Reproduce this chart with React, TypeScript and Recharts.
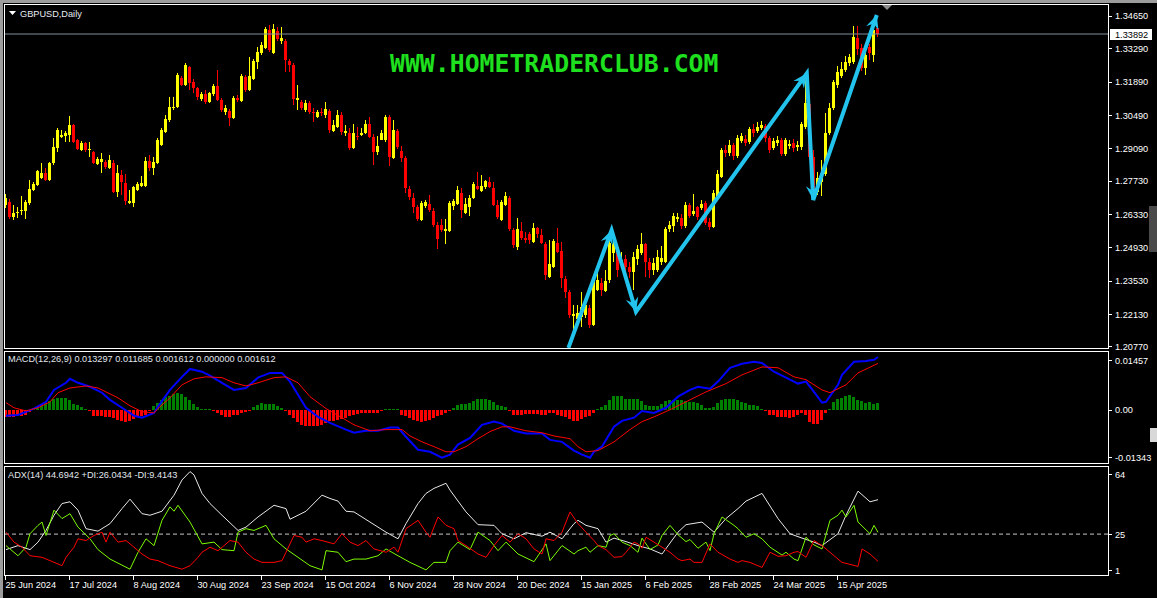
import { Bar, ComposedChart, Line, ReferenceLine, XAxis, YAxis } from "recharts";

// GBPUSD daily, one bar per trading day starting 25 Jun 2024
const opens = [
  1.2671, 1.2684, 1.2621, 1.2637, 1.2646, 1.2646, 1.2679, 1.2734, 1.2755, 1.2784,
  1.2805, 1.2776, 1.2847, 1.291, 1.2957, 1.2961, 1.2965, 1.3007, 1.2944, 1.2902,
  1.2931, 1.2902, 1.2894, 1.2843, 1.2852, 1.2852, 1.2826, 1.2847, 1.2726, 1.2797,
  1.2763, 1.2679, 1.2679, 1.2734, 1.2751, 1.2751, 1.2856, 1.2826, 1.2847, 1.2923,
  1.2978, 1.3028, 1.3078, 1.3083, 1.3204, 1.3175, 1.3251, 1.3188, 1.3162, 1.3116,
  1.3137, 1.3104, 1.3137, 1.3171, 1.3112, 1.3062, 1.3066, 1.3036, 1.312, 1.3108,
  1.3209, 1.3154, 1.32, 1.3272, 1.3309, 1.333, 1.3406, 1.3309, 1.3402, 1.336,
  1.336, 1.3276, 1.3259, 1.3112, 1.3104, 1.307, 1.3099, 1.3062, 1.3041, 1.3062,
  1.3049, 1.3066, 1.2982, 1.2999, 1.3049, 1.2973, 1.2973, 1.291, 1.2961, 1.2965,
  1.2973, 1.3011, 1.2957, 1.2894, 1.2944, 1.2944, 1.3041, 1.2868, 1.2982, 1.2898,
  1.2868, 1.2738, 1.27, 1.2663, 1.2608, 1.2667, 1.2675, 1.2646, 1.2587, 1.2587,
  1.2562, 1.2562, 1.2667, 1.2675, 1.2721, 1.2637, 1.2663, 1.27, 1.2751, 1.273,
  1.2747, 1.2768, 1.2742, 1.2671, 1.2608, 1.2671, 1.27, 1.2566, 1.2495, 1.2562,
  1.2532, 1.2549, 1.2516, 1.2574, 1.2545, 1.2507, 1.2369, 1.2411, 1.2511, 1.2478,
  1.236, 1.2306, 1.2205, 1.2192, 1.2201, 1.2209, 1.2238, 1.2167, 1.2314, 1.2343,
  1.231, 1.2356, 1.2469, 1.2495, 1.2432, 1.2444, 1.2411, 1.239, 1.2444, 1.2469,
  1.2507, 1.2432, 1.2398, 1.2398, 1.2432, 1.2432, 1.257, 1.2583, 1.2612, 1.2616,
  1.2583, 1.2671, 1.2633, 1.2663, 1.2658, 1.2679, 1.26, 1.2579, 1.2705, 1.2789,
  1.2902, 1.2889, 1.2923, 1.2877, 1.294, 1.2948, 1.2936, 1.299, 1.2982, 1.2994,
  1.3003, 1.2952, 1.291, 1.2931, 1.2944, 1.2885, 1.2919, 1.2931, 1.2915, 1.2915,
  1.2999, 1.3095, 1.2873, 1.2726, 1.2768, 1.2801, 1.2973, 1.3078, 1.3175, 1.3213,
  1.3238, 1.3267, 1.3272, 1.3372, 1.333, 1.3246, 1.3335, 1.3301, 1.3414,
];
const highs = [
  1.2717, 1.2696, 1.2671, 1.2663, 1.2709, 1.2692, 1.2776, 1.2768, 1.2818, 1.2847,
  1.2826, 1.2852, 1.2952, 1.2994, 1.2986, 1.2982, 1.3045, 1.3011, 1.2948, 1.294,
  1.2936, 1.2936, 1.2898, 1.2873, 1.2889, 1.286, 1.2881, 1.286, 1.2839, 1.2818,
  1.2801, 1.2734, 1.2751, 1.2768, 1.2793, 1.2873, 1.2881, 1.2873, 1.2952, 1.2994,
  1.3049, 1.3125, 1.3125, 1.3225, 1.3213, 1.3267, 1.3255, 1.32, 1.3167, 1.3146,
  1.3154, 1.3146, 1.3179, 1.3238, 1.312, 1.3091, 1.3074, 1.3129, 1.3133, 1.3221,
  1.3217, 1.3293, 1.3284, 1.3335, 1.3356, 1.3419, 1.3427, 1.3431, 1.3419, 1.3419,
  1.3368, 1.3284, 1.3267, 1.3175, 1.3112, 1.3112, 1.3108, 1.3078, 1.307, 1.3078,
  1.3104, 1.3074, 1.3028, 1.307, 1.3062, 1.3007, 1.2994, 1.3011, 1.2999, 1.2994,
  1.3028, 1.3041, 1.2969, 1.2961, 1.2986, 1.3049, 1.3049, 1.3028, 1.299, 1.2919,
  1.2877, 1.2751, 1.2721, 1.2671, 1.2688, 1.2692, 1.2713, 1.2658, 1.26, 1.2612,
  1.2612, 1.2688, 1.2696, 1.2751, 1.2742, 1.27, 1.2713, 1.2768, 1.281, 1.2797,
  1.2776, 1.2789, 1.2768, 1.2692, 1.2692, 1.2726, 1.2709, 1.2574, 1.2616, 1.26,
  1.2558, 1.2558, 1.2595, 1.2579, 1.257, 1.2516, 1.2524, 1.2528, 1.2574, 1.2516,
  1.2373, 1.2314, 1.2251, 1.2251, 1.2306, 1.2272, 1.2251, 1.2369, 1.239, 1.2364,
  1.2398, 1.2524, 1.2524, 1.2503, 1.2474, 1.2461, 1.2432, 1.2474, 1.2503, 1.2553,
  1.2511, 1.2448, 1.2448, 1.2482, 1.2499, 1.2579, 1.2604, 1.2637, 1.2637, 1.2633,
  1.2684, 1.2679, 1.2717, 1.2667, 1.2692, 1.2688, 1.2616, 1.2734, 1.2818, 1.291,
  1.2923, 1.2944, 1.2931, 1.2965, 1.2973, 1.2965, 1.2999, 1.3011, 1.302, 1.3024,
  1.3011, 1.2961, 1.2952, 1.2961, 1.2952, 1.2952, 1.2944, 1.2948, 1.294, 1.302,
  1.3213, 1.3108, 1.2902, 1.281, 1.286, 1.3057, 1.3099, 1.3196, 1.3255, 1.3272,
  1.3297, 1.3305, 1.3423, 1.3423, 1.3347, 1.3314, 1.3347, 1.3435, 1.3427,
];
const lows = [
  1.2658, 1.2612, 1.2608, 1.2616, 1.2629, 1.2612, 1.2671, 1.273, 1.2751, 1.278,
  1.2772, 1.2772, 1.2839, 1.2894, 1.2952, 1.2936, 1.2936, 1.2931, 1.2902, 1.2898,
  1.2894, 1.2873, 1.2843, 1.2839, 1.2805, 1.2822, 1.2822, 1.2721, 1.2705, 1.2713,
  1.2671, 1.2675, 1.2663, 1.273, 1.2747, 1.2747, 1.2814, 1.2797, 1.2843, 1.2919,
  1.2973, 1.302, 1.307, 1.3078, 1.3171, 1.3171, 1.3154, 1.3141, 1.3112, 1.3108,
  1.3095, 1.3099, 1.3129, 1.3108, 1.3062, 1.3049, 1.3003, 1.3032, 1.3104, 1.3104,
  1.3146, 1.315, 1.3196, 1.3242, 1.3301, 1.3326, 1.3314, 1.3305, 1.336, 1.3347,
  1.323, 1.323, 1.3091, 1.307, 1.307, 1.3062, 1.3053, 1.302, 1.3036, 1.3045,
  1.3036, 1.2973, 1.2978, 1.2994, 1.2965, 1.2961, 1.2902, 1.2906, 1.2944, 1.2961,
  1.2969, 1.2952, 1.2839, 1.2881, 1.2944, 1.2936, 1.2835, 1.2864, 1.2906, 1.2852,
  1.2721, 1.2692, 1.2637, 1.2604, 1.2604, 1.2658, 1.2642, 1.2579, 1.2486, 1.2558,
  1.2507, 1.2558, 1.265, 1.2671, 1.2616, 1.2633, 1.2625, 1.2696, 1.2734, 1.2726,
  1.2738, 1.2742, 1.2667, 1.2612, 1.2604, 1.2667, 1.2562, 1.249, 1.2482, 1.2524,
  1.2511, 1.2507, 1.2511, 1.2532, 1.2507, 1.2356, 1.2364, 1.2406, 1.2469, 1.2322,
  1.228, 1.2196, 1.2146, 1.2167, 1.2159, 1.2196, 1.2154, 1.2163, 1.231, 1.2289,
  1.2306, 1.2343, 1.2432, 1.2369, 1.2406, 1.2377, 1.2364, 1.2314, 1.2419, 1.2461,
  1.2369, 1.2364, 1.2377, 1.239, 1.2419, 1.2427, 1.2558, 1.2558, 1.26, 1.257,
  1.2574, 1.2616, 1.2625, 1.2608, 1.265, 1.2587, 1.2566, 1.2574, 1.27, 1.2784,
  1.2873, 1.2877, 1.286, 1.2868, 1.2931, 1.2919, 1.2927, 1.2957, 1.2973, 1.2986,
  1.2936, 1.2889, 1.2902, 1.2919, 1.2877, 1.2877, 1.2906, 1.2894, 1.2898, 1.2902,
  1.299, 1.286, 1.2696, 1.2713, 1.2709, 1.2793, 1.2965, 1.307, 1.3162, 1.3204,
  1.323, 1.3255, 1.3263, 1.3301, 1.3234, 1.3217, 1.328, 1.3272, 1.3377,
];
const closes = [
  1.27, 1.2621, 1.2637, 1.2642, 1.265, 1.2684, 1.2738, 1.2759, 1.2814, 1.2805,
  1.2776, 1.2847, 1.2915, 1.2986, 1.2965, 1.2973, 1.3007, 1.2936, 1.2906, 1.2931,
  1.2902, 1.2906, 1.2847, 1.2864, 1.2864, 1.2831, 1.286, 1.2726, 1.2805, 1.2768,
  1.2688, 1.2688, 1.2747, 1.2759, 1.2763, 1.2856, 1.2826, 1.2852, 1.2944, 1.2986,
  1.3032, 1.3083, 1.3083, 1.3217, 1.3175, 1.3259, 1.3183, 1.3162, 1.3125, 1.3137,
  1.3104, 1.3141, 1.3171, 1.3112, 1.307, 1.3078, 1.3036, 1.312, 1.3112, 1.3213,
  1.3154, 1.3213, 1.3276, 1.3314, 1.3343, 1.341, 1.3322, 1.341, 1.3368, 1.3372,
  1.328, 1.3259, 1.3116, 1.312, 1.3078, 1.3099, 1.3062, 1.3057, 1.3062, 1.3057,
  1.3074, 1.2986, 1.3007, 1.3049, 1.2978, 1.2982, 1.291, 1.2973, 1.2957, 1.2973,
  1.3011, 1.2957, 1.2894, 1.2919, 1.2973, 1.3041, 1.2873, 1.2986, 1.2915, 1.2868,
  1.2742, 1.2705, 1.2663, 1.2612, 1.2679, 1.2684, 1.265, 1.2587, 1.2528, 1.2566,
  1.257, 1.2679, 1.2688, 1.2734, 1.265, 1.2675, 1.27, 1.2759, 1.2738, 1.2751,
  1.2772, 1.2747, 1.2671, 1.2621, 1.2684, 1.2709, 1.257, 1.2503, 1.257, 1.2532,
  1.2524, 1.2524, 1.2574, 1.2549, 1.2511, 1.2377, 1.2423, 1.252, 1.2474, 1.2364,
  1.2306, 1.2209, 1.2213, 1.2217, 1.2243, 1.2251, 1.2167, 1.2356, 1.2356, 1.2314,
  1.2352, 1.2511, 1.2507, 1.2398, 1.244, 1.2411, 1.239, 1.2453, 1.2486, 1.2507,
  1.2432, 1.2398, 1.2427, 1.2453, 1.2448, 1.257, 1.2587, 1.2625, 1.2621, 1.2583,
  1.2671, 1.2625, 1.2646, 1.2621, 1.2675, 1.2595, 1.2579, 1.2721, 1.2801, 1.2902,
  1.2889, 1.2923, 1.2877, 1.2952, 1.2961, 1.2931, 1.299, 1.2973, 1.2999, 1.3007,
  1.2952, 1.2902, 1.294, 1.2944, 1.2885, 1.2944, 1.2927, 1.291, 1.2923, 1.3011,
  1.3099, 1.2873, 1.2726, 1.2784, 1.2801, 1.2973, 1.3078, 1.3188, 1.323, 1.3242,
  1.3272, 1.3293, 1.3377, 1.3326, 1.3246, 1.3301, 1.3309, 1.3406, 1.3389,
];

// MACD(12,26,9) histogram, one value per bar
const macdHist = [
  -0.0018, -0.0018, -0.0018, -0.0015, -0.0015, -0.0013, -0.0005, 0.0005, 0.001, 0.0015,
  0.0018, 0.0023, 0.0028, 0.003, 0.003, 0.003, 0.0025, 0.0015, 0.0013, 0.0008,
  0.0003, -0.0003, -0.0015, -0.0015, -0.0015, -0.0018, -0.0018, -0.002, -0.0025, -0.0028,
  -0.003, -0.0028, -0.0023, -0.0018, -0.0015, -0.0013, -0.0003, 0.001, 0.0018, 0.0025,
  0.0033, 0.0035, 0.004, 0.0043, 0.004, 0.0033, 0.0025, 0.0015, 0.0008, 0.0003,
  0.0003, 0.0003, -0.0003, -0.0008, -0.0013, -0.0018, -0.0018, -0.0013, -0.0013, -0.0008,
  -0.0005, -0.0003, 0.0008, 0.0013, 0.0018, 0.0015, 0.0015, 0.0015, 0.001, 0.0005,
  -0.0003, -0.0013, -0.002, -0.003, -0.0038, -0.004, -0.004, -0.004, -0.004, -0.0038,
  -0.0033, -0.0028, -0.0028, -0.0025, -0.0023, -0.002, -0.0015, -0.0013, -0.001, -0.0008,
  -0.0008, -0.0008, -0.0008, -0.0008, -0.0003, 0.0003, 0.0001, 0.0003, 0.0003, -0.0013,
  -0.0015, -0.002, -0.0025, -0.0028, -0.003, -0.0028, -0.0025, -0.002, -0.0015, -0.0013,
  -0.0008, -0.0003, 0.0005, 0.0013, 0.0015, 0.0015, 0.0018, 0.0023, 0.0028, 0.0028,
  0.0028, 0.0025, 0.002, 0.0013, 0.001, 0.0008, -0.0003, -0.0013, -0.0013, -0.0013,
  -0.001, -0.001, -0.001, -0.001, -0.0013, -0.0013, -0.0008, -0.0008, -0.0013, -0.0015,
  -0.0018, -0.0023, -0.0028, -0.0028, -0.0023, -0.0018, -0.0015, -0.0008, 0.0003, 0.0008,
  0.0013, 0.0025, 0.0035, 0.0035, 0.0035, 0.0028, 0.0028, 0.0028, 0.0028, 0.0023,
  0.0013, 0.001, 0.001, 0.001, 0.0015, 0.0023, 0.0025, 0.0025, 0.0025, 0.0025,
  0.0023, 0.002, 0.002, 0.0018, 0.0013, 0.0005, 0.0005, 0.0008, 0.0018, 0.0025,
  0.0028, 0.0028, 0.0028, 0.0025, 0.002, 0.0018, 0.0013, 0.0013, 0.001, 0.0003,
  -0.0003, -0.0013, -0.0013, -0.0018, -0.0018, -0.0018, -0.002, -0.0018, -0.0013, -0.0008,
  -0.0013, -0.003, -0.0035, -0.0035, -0.0025, -0.0008, 0.0003, 0.002, 0.0028, 0.003,
  0.0035, 0.0038, 0.0033, 0.0025, 0.0023, 0.0018, 0.002, 0.0015, 0.0016,
];

// [bar, value] readings of the indicator lines
const macdPoints = [
  [0, -0.0015], [3, -0.0013], [7, 0.0003], [10, 0.002], [12, 0.005], [15, 0.0068], [16, 0.0078],
  [18, 0.0068], [21, 0.0058], [24, 0.0043], [26, 0.0025], [29, 0.0005], [32, -0.0015], [34, -0.002],
  [37, -0.0008], [38, 0.0008], [41, 0.005], [44, 0.0083], [46, 0.0103], [49, 0.0096], [51, 0.0086],
  [54, 0.0068], [57, 0.005], [60, 0.0055], [63, 0.0081], [66, 0.0093], [69, 0.0093], [71, 0.0071],
  [73, 0.0038], [75, 0.0005], [78, -0.0018], [81, -0.0033], [85, -0.005], [87, -0.0058], [90, -0.0053],
  [93, -0.0053], [96, -0.0045], [98, -0.0045], [100, -0.0068], [103, -0.0101], [106, -0.0106],
  [109, -0.0121], [111, -0.0113], [113, -0.0088], [116, -0.0071], [119, -0.0038], [122, -0.003],
  [124, -0.0035], [127, -0.0053], [130, -0.006], [134, -0.006], [136, -0.0076], [139, -0.0081],
  [142, -0.0103], [144, -0.0113], [146, -0.0121], [147, -0.0106], [149, -0.0093], [152, -0.0043],
  [154, -0.0028], [157, -0.002], [159, -0.0003], [162, -0.0008], [165, 0.0005], [168, 0.0033],
  [171, 0.005], [173, 0.0058], [176, 0.0053], [178, 0.0071], [181, 0.0106], [184, 0.0116],
  [187, 0.0121], [189, 0.0118], [192, 0.0096], [195, 0.0081], [198, 0.0066], [200, 0.0071],
  [202, 0.0045], [204, 0.0018], [205, 0.002], [208, 0.0063], [209, 0.0088], [212, 0.0121],
  [215, 0.0123], [217, 0.0126], [218, 0.0133],
];
const signalPoints = [
  [0, 0.0018], [2, 0.0005], [5, -0.0003], [8, 0.0005], [11, 0.002], [13, 0.0043], [16, 0.0055],
  [20, 0.006], [23, 0.0055], [25, 0.0045], [28, 0.003], [31, 0.001], [34, -0.0005], [37, -0.0008],
  [38, 0.0003], [41, 0.003], [44, 0.0063], [47, 0.0078], [50, 0.0083], [54, 0.0081], [57, 0.0068],
  [60, 0.006], [63, 0.0068], [67, 0.0081], [70, 0.0083], [73, 0.0068], [76, 0.0033], [80, 0.0003],
  [84, -0.002], [87, -0.0038], [91, -0.0053], [95, -0.005], [99, -0.005], [101, -0.0066],
  [104, -0.0081], [107, -0.0093], [110, -0.0106], [112, -0.0106], [115, -0.0093], [118, -0.0073],
  [121, -0.0055], [124, -0.0043], [126, -0.0043], [130, -0.0053], [134, -0.0058], [137, -0.0066],
  [141, -0.0073], [143, -0.0093], [145, -0.0106], [148, -0.0103], [152, -0.0081], [156, -0.005],
  [159, -0.003], [162, -0.0018], [166, 0], [171, 0.0025], [175, 0.0045], [180, 0.0066],
  [184, 0.0088], [189, 0.0108], [193, 0.0106], [197, 0.0083], [200, 0.0076], [204, 0.005],
  [206, 0.0043], [210, 0.0063], [213, 0.0093], [218, 0.0117],
];
const adxPoints = [
  [0, 16.1], [3, 18.4], [6, 16.1], [8, 20.4], [10, 27.1], [12, 35.8], [14, 42.5], [16, 43.5],
  [18, 38.7], [20, 28.1], [23, 26.7], [26, 31], [29, 39.6], [31, 45], [34, 36.7], [36, 35.8],
  [39, 38.1], [42, 47.3], [44, 56], [46, 60.8], [47, 58.9], [49, 48.3], [51, 42.5], [54, 35.8],
  [58, 27.1], [60, 29], [63, 34.8], [67, 41.5], [70, 39.6], [71, 33.5], [75, 38.1], [79, 47.3],
  [81, 45.4], [83, 43.9], [85, 38.1], [87, 37.7], [91, 31.9], [95, 26.1], [98, 22.3], [100, 31],
  [103, 42.5], [105, 48.3], [107, 51.2], [110, 54.1], [111, 50.2], [115, 37.7], [118, 30.4],
  [122, 30], [124, 25.2], [127, 22.3], [130, 25.8], [134, 23.8], [136, 26.1], [139, 22.3],
  [142, 31], [143, 32.9], [145, 30], [148, 28.1], [150, 20.4], [152, 22.7], [155, 20.7],
  [158, 18.4], [161, 16.5], [164, 13.6], [168, 26.1], [170, 30.4], [174, 31.9], [177, 26.1],
  [180, 33.9], [183, 39.6], [185, 43.9], [189, 48.3], [193, 33.9], [196, 25.2], [199, 22.7],
  [202, 20.4], [204, 18.4], [208, 25.2], [210, 35.8], [213, 49.6], [216, 43.5], [218, 44.7],
];
const plusDiPoints = [
  [0, 18.4], [3, 12.6], [5, 17.5], [6, 25.2], [8, 30], [9, 31.9], [10, 24.2], [12, 38.7], [14, 33.9],
  [16, 36.7], [18, 29], [21, 22.3], [23, 16.1], [26, 10.7], [31, 4.9], [33, 14.6], [35, 22.3],
  [37, 18.4], [39, 32.9], [41, 40.6], [42, 38.1], [43, 41.5], [46, 31.9], [49, 19.4], [52, 20.4],
  [54, 16.1], [57, 15.5], [58, 26.1], [60, 28.1], [62, 27.1], [65, 30], [67, 22.3], [70, 16.5],
  [73, 11.7], [76, 6.9], [79, 4.5], [80, 15.5], [83, 14.6], [85, 9.2], [87, 10.7], [90, 10.7],
  [93, 12.6], [95, 16.5], [98, 12.6], [101, 8.8], [105, 4.5], [107, 8.8], [110, 8.8], [111, 15.5],
  [113, 20.4], [116, 16.1], [118, 26.1], [121, 21.3], [123, 15.5], [125, 20.4], [128, 13.6],
  [132, 9.2], [135, 19.4], [136, 9.8], [139, 18.4], [142, 13.6], [143, 15.5], [145, 17.5],
  [146, 14.6], [148, 18.4], [150, 17.5], [151, 24.2], [152, 25.2], [154, 20.4], [156, 18.4],
  [158, 14.6], [159, 22.7], [161, 16.1], [163, 18.8], [164, 24.2], [166, 30], [168, 24.6],
  [170, 20.7], [171, 21.9], [173, 16.9], [175, 20.4], [176, 15.5], [177, 25.2], [179, 34.8],
  [182, 30], [183, 28.1], [185, 23.2], [187, 25.2], [189, 22.3], [191, 17.5], [194, 13],
  [195, 14.6], [197, 10.7], [198, 9.8], [200, 23.2], [202, 18.8], [204, 16.5], [206, 32.9],
  [208, 35.8], [209, 38.7], [210, 34.8], [212, 41.5], [213, 31.9], [216, 25.2], [217, 30], [218, 26],
];
const minusDiPoints = [
  [0, 26.1], [2, 20.4], [4, 17.5], [6, 12.6], [9, 11.7], [11, 9.8], [14, 6.9], [15, 11.7], [17, 17.5],
  [18, 22.3], [20, 21.3], [22, 24.2], [24, 26.1], [25, 20.4], [26, 26.1], [28, 20.4], [30, 21.3],
  [32, 17.5], [34, 13.6], [36, 10.7], [38, 9.8], [41, 6.9], [44, 4.9], [46, 6.9], [48, 11.7],
  [49, 14.6], [51, 17.5], [53, 15.5], [56, 21.3], [58, 20.4], [60, 14.6], [62, 10.7], [64, 8.8],
  [67, 8.8], [69, 9.8], [70, 14.6], [72, 24.2], [74, 23.2], [75, 20.4], [77, 22.3], [79, 21.3],
  [82, 19.4], [84, 25.2], [86, 20.4], [88, 18.4], [90, 21.3], [92, 16.5], [95, 14.6], [97, 17.5],
  [98, 14.6], [100, 28.1], [103, 32.9], [105, 26.1], [106, 23.2], [108, 34.8], [110, 30],
  [112, 28.1], [113, 21.3], [115, 18.4], [118, 13.6], [120, 11.7], [122, 18.4], [124, 24.2],
  [126, 20.4], [128, 25.2], [130, 22.3], [132, 16.5], [134, 13.6], [135, 22.3], [137, 21.3],
  [139, 26.1], [141, 37.7], [143, 31], [145, 26.1], [147, 21.3], [148, 18.4], [150, 16.1],
  [152, 11.7], [154, 12.1], [155, 14.6], [157, 20.4], [158, 19.4], [159, 16.9], [160, 23.2],
  [162, 20.4], [164, 17.5], [166, 14.6], [168, 10.7], [169, 9.8], [171, 10.7], [172, 8.8],
  [174, 8.8], [176, 19.4], [178, 14.6], [181, 10.7], [183, 8.8], [184, 9.8], [186, 8.8],
  [189, 5.9], [191, 14.6], [193, 12.3], [195, 12.6], [197, 14.6], [198, 15], [200, 11.7],
  [202, 21.3], [204, 18.4], [206, 14.6], [208, 10.7], [209, 8.8], [213, 6.5], [214, 16.5],
  [216, 13.6], [218, 9.4],
];

// hand-drawn zigzag annotation, [bar, price]
const zigzagPoints = [
  [140.6, 1.2071], [151.4, 1.2566], [157.5, 1.2223], [200.2, 1.3224], [201.8, 1.2692], [217.7, 1.3469],
];

const dateTicks = [0, 16, 32, 48, 64, 80, 96, 112, 128, 144, 160, 176, 192, 208];
const dateLabels = [
  "25 Jun 2024", "17 Jul 2024", "8 Aug 2024", "30 Aug 2024", "23 Sep 2024", "15 Oct 2024", "6 Nov 2024",
  "28 Nov 2024", "20 Dec 2024", "15 Jan 2025", "6 Feb 2025", "28 Feb 2025", "24 Mar 2025", "15 Apr 2025",
];
const priceTicks = [1.3465, 1.3329, 1.3189, 1.3049, 1.2909, 1.2773, 1.2633, 1.2493, 1.2353, 1.2213, 1.2077];
const lastPrice = 1.33892;
const macdTicks = [0.01457, 0, -0.01343];
const adxTicks = [64, 25, 1];

const FONT = "'Liberation Sans', Arial, sans-serif";
const FS = 9.2;
const X_DOMAIN: [number, number] = [-0.5, 275.5];
const CYAN = "#22c4ee";

const candles = opens.map((o, i) => ({
  i,
  o,
  h: highs[i],
  l: lows[i],
  c: closes[i],
  range: [lows[i], highs[i]],
  hist: macdHist[i],
}));
const toSeries = (pts: number[][]) => pts.map(([i, v]) => ({ i, v }));

function Candle(props: any) {
  const { x, y, width, height, payload } = props;
  if (!payload || height == null) return null;
  const { o, h, l, c } = payload;
  const top = Math.min(y, y + height);
  const span = Math.abs(height);
  const k = h > l ? span / (h - l) : 0;
  const py = (v: number) => top + (h - v) * k;
  const bx = Math.round(x + width / 2 - 1.5);
  const color = c >= o ? "#ffff00" : "#ff0000";
  const y1 = Math.round(py(Math.max(o, c)));
  const y2 = Math.round(py(Math.min(o, c)));
  const wTop = Math.round(top);
  const wBot = Math.round(top + span);
  return (
    <g>
      <rect x={bx + 1} y={wTop} width={1} height={Math.max(1, wBot - wTop)} fill={color} />
      <rect x={bx} y={y1} width={3} height={Math.max(1, y2 - y1)} fill={color} />
    </g>
  );
}

function HistBar(props: any) {
  const { x, y, width, height, payload } = props;
  if (!payload || !height) return null;
  const top = Math.round(Math.min(y, y + height));
  const bot = Math.round(Math.max(y, y + height));
  const bx = Math.round(x + width / 2 - 1.5);
  return (
    <rect x={bx} y={top} width={3} height={Math.max(1, bot - top)} fill={payload.hist >= 0 ? "#008000" : "#ff0000"} />
  );
}

function ArrowHead(props: any) {
  const { cx, cy, index, points } = props;
  if (!index || !points || cx == null || cy == null) return <g key={`a${index}`} />;
  const prev = points[index - 1];
  const dx = cx - prev.x;
  const dy = cy - prev.y;
  const len = Math.hypot(dx, dy) || 1;
  const ux = dx / len;
  const uy = dy / len;
  const L = 14;
  const W = 6.5;
  const N = 9;
  const pts = [
    [cx, cy],
    [cx - ux * L - uy * W, cy - uy * L + ux * W],
    [cx - ux * N, cy - uy * N],
    [cx - ux * L + uy * W, cy - uy * L - ux * W],
  ];
  return <polygon key={`a${index}`} points={pts.map((p) => p.join(",")).join(" ")} fill={CYAN} />;
}

function SideTick(props: any) {
  const { x, y, payload, fmt, top, bottom } = props;
  const v = payload.value;
  let cy = y;
  if (top !== undefined && v === top) cy = y + 8;
  if (bottom !== undefined && v === bottom) cy = y - 6;
  return (
    <g>
      <line x1={x} x2={x + 4} y1={Math.round(cy) + 0.5} y2={Math.round(cy) + 0.5} stroke="#ffffff" />
      <text x={x + 7} y={cy + 3.5} fill="#ffffff" fontSize={FS} fontFamily={FONT} textAnchor="start">
        {fmt(v)}
      </text>
    </g>
  );
}

function DateTick(props: any) {
  const { x, y, payload } = props;
  const idx = dateTicks.indexOf(payload.value);
  const px = Math.round(x) - 0.5;
  return (
    <g>
      <line x1={px} x2={px} y1={y} y2={y + 4} stroke="#ffffff" />
      <text x={px} y={y + 12} fill="#ffffff" fontSize={FS} fontFamily={FONT} textAnchor="start">
        {idx >= 0 ? dateLabels[idx] : ""}
      </text>
    </g>
  );
}

function PriceTag(props: any) {
  const vb = props.viewBox;
  if (!vb) return null;
  const yy = Math.round(vb.y);
  const x0 = vb.x + vb.width;
  return (
    <g>
      <rect x={x0 + 2} y={yy - 5} width={42} height={11} fill="#ffffff" />
      <text x={x0 + 7} y={yy + 4} fill="#000000" fontSize={FS} fontFamily={FONT}>
        {lastPrice.toFixed(5)}
      </text>
    </g>
  );
}

export default function App() {
  return (
    <div
      style={{ position: "absolute", left: 0, top: 0, width: 1157, height: 598, background: "#000000", overflow: "hidden" }}
    >
      <div style={{ position: "absolute", left: 0, top: 0 }}>
        <ComposedChart width={1157} height={351} data={candles} margin={{ top: 5, right: 0, bottom: 3, left: 4 }}>
          <XAxis type="number" dataKey="i" domain={X_DOMAIN} allowDataOverflow hide />
          <YAxis
            orientation="right"
            width={49}
            domain={[1.20704, 1.3511]}
            allowDataOverflow
            ticks={priceTicks}
            interval={0}
            tickSize={0}
            tickMargin={0}
            axisLine={false}
            tickLine={false}
            tick={(p: any) => <SideTick {...p} fmt={(v: number) => v.toFixed(5)} />}
          />
          <ReferenceLine y={lastPrice} stroke="#8090a0" label={(p: any) => <PriceTag {...p} />} />
          <Bar dataKey="range" shape={(p: any) => <Candle {...p} />} barSize={3} isAnimationActive={false} />
          <Line
            data={toSeries(zigzagPoints)}
            dataKey="v"
            type="linear"
            stroke={CYAN}
            strokeWidth={4}
            dot={(p: any) => <ArrowHead {...p} />}
            activeDot={false}
            isAnimationActive={false}
          />
        </ComposedChart>
      </div>

      <div style={{ position: "absolute", left: 0, top: 352 }}>
        <ComposedChart width={1157} height={111} data={candles} margin={{ top: 0, right: 0, bottom: 0, left: 4 }}>
          <XAxis type="number" dataKey="i" domain={X_DOMAIN} allowDataOverflow hide />
          <YAxis
            orientation="right"
            width={49}
            domain={[-0.01343, 0.01457]}
            allowDataOverflow
            ticks={macdTicks}
            interval={0}
            tickSize={0}
            tickMargin={0}
            axisLine={false}
            tickLine={false}
            tick={(p: any) => (
              <SideTick {...p} top={0.01457} bottom={-0.01343} fmt={(v: number) => (v === 0 ? "0.00" : v.toFixed(5))} />
            )}
          />
          <Bar dataKey="hist" shape={(p: any) => <HistBar {...p} />} barSize={3} isAnimationActive={false} />
          <Line data={toSeries(macdPoints)} dataKey="v" stroke="#0000ff" strokeWidth={2} dot={false} isAnimationActive={false} />
          <Line data={toSeries(signalPoints)} dataKey="v" stroke="#ff0000" strokeWidth={1} dot={false} isAnimationActive={false} />
        </ComposedChart>
      </div>

      <div style={{ position: "absolute", left: 0, top: 466 }}>
        <ComposedChart width={1157} height={132} margin={{ top: 0, right: 0, bottom: 0, left: 4 }}>
          <XAxis
            type="number"
            dataKey="i"
            domain={X_DOMAIN}
            allowDataOverflow
            ticks={dateTicks}
            interval={0}
            height={22}
            tickSize={0}
            tickMargin={0}
            axisLine={false}
            tickLine={false}
            tick={(p: any) => <DateTick {...p} />}
          />
          <YAxis
            orientation="right"
            width={49}
            domain={[1, 64]}
            allowDataOverflow
            ticks={adxTicks}
            interval={0}
            tickSize={0}
            tickMargin={0}
            axisLine={false}
            tickLine={false}
            tick={(p: any) => <SideTick {...p} top={64} bottom={1} fmt={(v: number) => String(v)} />}
          />
          <ReferenceLine y={25} stroke="#c8c8c8" strokeDasharray="4 3" />
          <Line data={toSeries(adxPoints)} dataKey="v" stroke="#e8e8e8" strokeWidth={1} dot={false} isAnimationActive={false} />
          <Line data={toSeries(plusDiPoints)} dataKey="v" stroke="#7cfc00" strokeWidth={1} dot={false} isAnimationActive={false} />
          <Line data={toSeries(minusDiPoints)} dataKey="v" stroke="#ff0000" strokeWidth={1} dot={false} isAnimationActive={false} />
        </ComposedChart>
      </div>

      <svg
        width={1157}
        height={598}
        style={{ position: "absolute", left: 0, top: 0, pointerEvents: "none" }}
      >
        <rect x={0} y={0} width={1157} height={3} fill="#9c9c9c" />
        <rect x={0} y={0} width={3} height={598} fill="#9c9c9c" />
        <rect x={4.5} y={4.5} width={1104} height={344} fill="none" stroke="#ffffff" />
        <rect x={4.5} y={351.5} width={1104} height={112} fill="none" stroke="#ffffff" />
        <rect x={4.5} y={466.5} width={1104} height={109} fill="none" stroke="#ffffff" />
        <rect x={1149} y={206} width={8} height={46} fill="#4a4a4a" />
        <rect x={1150} y={428} width={7} height={14} fill="#d8d8d8" />
        <polygon points="882,5 892,5 887,10" fill="#8c8c8c" />
        <polygon points="9,11 16,11 12.5,15" fill="#ffffff" />
        <text x={20} y={17} fill="#e8ecf4" fontSize={FS} fontFamily={FONT}>
          GBPUSD,Daily
        </text>
        <text
          x={390}
          y={72}
          fill="#1ee01e"
          fontSize={24.8}
          fontWeight="bold"
          fontFamily="'DejaVu Sans Mono', 'Liberation Mono', monospace"
        >
          WWW.HOMETRADERCLUB.COM
        </text>
        <text x={8} y={362} fill="#e0e6ee" fontSize={FS} fontFamily={FONT}>
          MACD(12,26,9) 0.013297 0.011685 0.001612 0.000000 0.001612
        </text>
        <text x={8} y={478} fill="#e0e6ee" fontSize={FS} fontFamily={FONT}>
          ADX(14) 44.6942 +DI:26.0434 -DI:9.4143
        </text>
      </svg>
    </div>
  );
}
